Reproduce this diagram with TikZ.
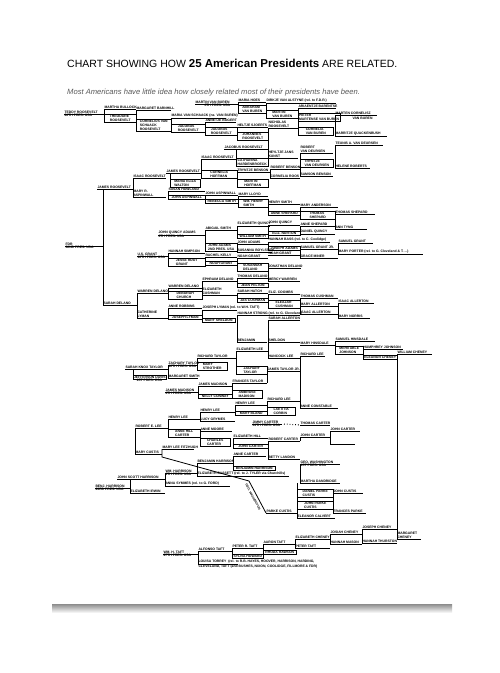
\documentclass[tikz,border=0pt]{standalone}
\usepackage{fontspec}
\setmainfont{Liberation Sans}
\usetikzlibrary{calc}
\newcommand\cfnt{\fontsize{3.4}{3.8}\selectfont\bfseries}
\tikzset{
 pn/.style={anchor=south west, inner xsep=0.3pt, inner ysep=0.6pt, font=\cfnt, align=left},
 bn/.style={pn, draw, line width=0.5pt, inner xsep=0.8pt, inner ysep=0.6pt},
 ln/.style={line width=0.8pt},
}
\newcommand\PN[5]{\node[pn] (#1) at (#2,#3) {#5}; \draw[ln] (#1.south west) -- ++(#4,0);}
\newcommand\BX[5]{\node[bn, minimum width=#4] (#1) at (#2,#3) {#5};}
\newcommand\PRS[2]{\node[pn, anchor=north west, inner ysep=0.4pt] (#1p) at (#1.south west) {#2};}
\newcommand\BR[2]{\draw[ln] (#1.south west) -- (#2.south west);}
\newcommand\BV[2]{\draw[ln] (#1.south west -| #2.south west) -- (#2.south west);}
\begin{document}
\begin{tikzpicture}[x=1pt,y=-1pt]
\useasboundingbox (0,0) rectangle (500,673);
\fill[white] (0,0) rectangle (500,673);
\shade[top color=black!45, bottom color=white] (52,604) rectangle (452,613);
% title
\node[anchor=base west, inner sep=0] (title) at (67,67) {\fontsize{10.5}{12}\selectfont CHART SHOWING HOW {\fontsize{11.5}{12}\selectfont\bfseries 25 American Presidents} ARE RELATED.};
\node[anchor=base west, inner sep=0, text=black!65] (sub) at (67,94) {\fontsize{7.6}{9}\selectfont\itshape Most Americans have little idea how closely related most of their presidents have been.};
% Roosevelt / Van Buren
\PN{tr}{64}{114}{40}{TEDDY ROOSEVELT} \PRS{tr}{26TH PRES. USA}
\PN{mbul}{104}{109}{32}{MARTHA BULLOCK}
\BX{throos}{104}{122}{32}{THEODORE\\ROOSEVELT}
\BR{mbul}{throos}
\PN{mbar}{136}{110}{35}{MARGARET BARNHILL}
\BX{cvs}{136}{131}{35}{CORNELIUS VAN\\SCHAACK\\ROOSEVELT}
\BR{mbar}{cvs}
\PN{mvs}{171}{118}{55}{MARIA VAN SCHAACK (ne. VAN BUREN)}
\BX{jr1}{171}{132}{34}{JACOBUS\\ROOSEVELT}
\BR{mvs}{jr1}
\PN{mvb}{195}{104}{43}{MARTIN VAN BUREN} \PRS{mvb}{\hspace*{9pt}8TH PRES. USA}
\PN{mhoes}{238}{102}{28}{MARIA HOES}
\BX{abvb}{238}{113}{28}{ABRAHAM\\VAN BUREN}
\BR{mhoes}{abvb}
\PN{dirk}{266}{103}{70}{DIRKJE VAN ALSTYNE (rel. to F.D.R.)}
\BX{mvbb}{266}{118}{32}{MARTIN\\VAN BUREN}
\BR{dirk}{mvbb}
\PN{aria}{298}{108}{38}{ARIAENTJE BARENTSE}
\BX{piet}{298}{121}{37}{PIETER\\MARTENSE VAN BUREN}
\BX{corn}{298}{135}{35}{CORNELIA\\VAN BUREN}
\BR{aria}{corn}
\PN{mart}{335}{115}{42}{MARTEN CORNELISZ}
\node[pn] (martb) at (352,120) {VAN BUREN};
\PN{marr}{335}{136}{52}{MARRITJE QUACKENBUSH}
\BR{mart}{marr}
\PN{ab}{205}{122}{31}{ANNETJE BOGERT}
\BX{jrb}{205}{135}{32}{JACOBUS\\ROOSEVELT}
\BR{ab}{jrb}
\PN{hs}{237}{127}{31}{HELTJE SJOERTS}
\BX{joh}{237}{140}{31}{JOHANNES\\ROOSEVELT}
\BR{hs}{joh}
\PN{nich}{268}{128}{30}{NICHOLAS\\ROOSEVELT}
\PN{hjk}{268}{158}{30}{HEYLTJE JANS\\KUNST}
\BR{nich}{hjk}
\PN{jrc}{224}{149}{44}{JACOBUS ROOSEVELT}
\PN{isra}{201}{159}{35}{ISAAC ROOSEVELT}
\BX{cath}{236}{166}{32}{CATHARINA\\HARDENBROECK}
\BV{jrc}{cath}
\PN{rvd}{300}{153}{33}{ROBERT\\VAN DEURSEN}
\BX{tvd}{300}{167}{33}{TRYNTJE\\VAN DEURSEN}
\PN{samb}{300}{176}{33}{SAMSON BENSON}
\BR{rvd}{samb}
\PN{teun}{335}{145}{48}{TEUNIS A. VAN DEURSEN}
\PN{hel}{335}{168}{35}{HELENE ROBERTS}
\BR{teun}{hel}
\PN{rben}{270}{169}{30}{ROBERT BENSON}
\PN{croos}{270}{178}{30}{CORNELIA ROOS}
\BR{rben}{croos}
\PN{tben}{237}{172}{33}{TRYNTJE BENSON}
\BX{mhoff}{237}{187}{31}{MARTIN\\HOFFMAN}
\BR{tben}{mhoff}
\BX{choff}{201}{178}{36}{CORNELIA\\HOFFMAN}
\BR{isra}{choff}
\PN{jrsa}{166}{173}{35}{JAMES ROOSEVELT}
\BX{mew}{170}{187}{30}{MARIA ELIZA\\WALTON}
\BV{jrsa}{mew}
\PN{isrb}{133}{178}{33}{ISAAC ROOSEVELT}
\PN{jrsb}{97}{189}{36}{JAMES ROOSEVELT}
\PN{mra}{133}{197}{33}{MARY R.\\ASPINWALL}
\BR{isrb}{mra}
\PN{shw}{168}{191}{37}{SUSAN HOWLAND}
\BX{jasp}{168}{199}{37}{JOHN ASPINWALL}
\BR{shw}{jasp}
\PN{jaspb}{205}{195}{33}{JOHN ASPINWALL}
\BX{rsm}{205}{203}{33}{REBECCA SMITH}
\BR{jaspb}{rsm}
\PN{mll}{238}{196}{30}{MARY LLOYD}
\BX{whs}{238}{207}{30}{WM. HENRY\\SMITH}
\BR{mll}{whs}
\PN{hsm}{268}{204}{32}{HENRY SMITH}
\BX{ash}{268}{215}{32}{ANNE SHEPARD}
\BR{hsm}{ash}
\PN{mand}{300}{207}{38}{MARY ANDERSON}
\BX{tsh}{300}{219}{35}{THOMAS\\SHEPARD}
\BR{mand}{tsh}
\PN{tshb}{335}{214}{40}{THOMAS SHEPARD}
\PN{atyng}{335}{229}{32}{ANN TYNG}
\BR{tshb}{atyng}
% Adams
\PN{jqa}{158}{235}{47}{JOHN QUINCY ADAMS} \PRS{jqa}{6TH PRES. USA}
\PN{asm}{205}{230}{32}{ABIGAIL SMITH}
\BX{jada}{205}{251}{32}{JOHN ADAMS\\2ND PRES. USA}
\BR{asm}{jada}
\PN{eq}{237}{226}{33}{ELIZABETH QUINCY}
\BX{wsm}{237}{238}{31}{WILLIAM SMITH}
\BR{eq}{wsm}
\PN{jq}{268}{225}{32}{JOHN QUINCY}
\BX{en}{268}{235}{32}{ELIZ. NORTON}
\BR{jq}{en}
\PN{ashep}{300}{226}{35}{ANNE SHEPARD}
\PN{dq}{300}{234}{35}{DANIEL QUINCY}
\BR{ashep}{dq}
\PN{jad}{237}{244}{31}{JOHN ADAMS}
\PN{sbo}{237}{252}{35}{SUSANNA BOYLSTON}
\BR{jad}{sbo}
\PN{hb}{268}{242}{62}{HANNAH BASS (rel. to C. Coolidge)}
\BX{joad}{268}{250}{32}{JOSEPH ADAMS}
\BR{hb}{joad}
% Grant
\PN{usg}{137}{256}{31}{U.S. GRANT} \PRS{usg}{18TH PRES. USA}
\PN{hsim}{168}{253}{37}{HANNAH SIMPSON}
\BX{jrg}{168}{266}{37}{JESSE ROOT\\GRANT}
\BR{hsim}{jrg}
\PN{rk}{205}{257}{32}{RACHEL KELLY}
\BX{ng}{205}{265}{32}{NOAH GRANT}
\BR{rk}{ng}
\PN{ngb}{237}{258}{31}{NOAH GRANT}
\BX{sdel}{237}{271}{31}{SUSANNAH\\DELANO}
\BR{ngb}{sdel}
\PN{ngc}{268}{255}{32}{NOAH GRANT}
\PN{sgj}{300}{249}{38}{SAMUEL GRANT JR.}
\PN{gm}{300}{258}{38}{GRACE MINER}
\BR{sgj}{gm}
\PN{sg}{338}{243}{35}{SAMUEL GRANT}
\PN{mp}{338}{254}{85}{MARY PORTER (rel. to G. Cleveland \& T. ...)}
\BR{sg}{mp}
% Delano
\PN{jdel}{268}{268}{33}{JONATHAN DELANO}
\PN{mw}{268}{281}{32}{MERCY WARREN}
\BR{jdel}{mw}
\PN{td}{237}{278}{31}{THOMAS DELANO}
\BX{jp}{237}{287}{31}{JEAN PELTON}
\BR{td}{jp}
\PN{ed}{202}{281}{35}{EPHRAIM DELANO}
\PN{ec}{202}{295}{35}{ELIZABETH\\CUSHMAN}
\BR{ed}{ec}
\PN{sh}{237}{293}{31}{SARAH HATCH}
\BX{jc}{237}{302}{31}{JAS CUSHMAN}
\BR{sh}{jc}
\PN{ecoom}{268}{294}{32}{ELIZ. COOMBS}
\BX{elc}{268}{308}{32}{ELEAZAR\\CUSHMAN}
\BR{ecoom}{elc}
\PN{tc}{300}{298}{38}{THOMAS CUSHMAN}
\PN{mal}{300}{306}{38}{MARY ALLERTON}
\PN{iab}{300}{314}{38}{ISAAC ALLERTON}
\BR{tc}{iab}
\PN{ia}{338}{303}{36}{ISAAC ALLERTON}
\PN{mn}{338}{318}{32}{MARY NORRIS}
\BR{ia}{mn}
\PN{wdb}{168}{288}{34}{WARREN DELANO}
\BX{dch}{168}{299}{34}{DEBORAH\\CHURCH}
\BR{wdb}{dch}
\PN{wda}{137}{293}{31}{WARREN DELANO}
\PN{cly}{137}{318}{31}{CATHERINE\\LYMAN}
\BR{wda}{cly}
\PN{sd}{103}{305}{34}{SARAH DELANO}
\BV{jrsb}{sd}
\PN{fdr}{65}{246}{38}{FDR} \PRS{fdr}{32ND PRES. USA}
\PN{arob}{168}{308}{34}{ANNE ROBBINS}
\BX{jly}{168}{319}{34}{JOSEPH LYMAN}
\BR{arob}{jly}
\PN{jlyb}{202}{310}{35}{JOSEPH LYMAN (rel. to W.H. TAFT)}
\BX{msh}{202}{322}{33}{MARY SHELDON}
\BR{jlyb}{msh}
\PN{hst}{237}{315.5}{63}{HANNAH STRONG (rel. to G. Cleveland)}
\PN{ben}{237}{342}{30}{BENJAMIN}
\BR{hst}{ben}
\PN{sal}{268}{320.5}{32}{SARAH ALLERTON}
\PN{shel}{268}{342}{32}{SHELDON}
\PN{hlee}{268}{358}{32}{HANCOCK LEE}
\BR{sal}{hlee}
\PN{mhin}{300}{345}{35}{MARY HINSDALE}
\PN{shin}{335}{341}{40}{SAMUEL HINSDALE}
\BX{mjo}{335}{354}{28}{MEHITABLE\\JOHNSON}
\BR{shin}{mjo}
\PN{hjo}{363}{349}{40}{HUMPHREY JOHNSON}
\BX{elch}{363}{359}{34}{ELEANOR CHENEY}
\BR{hjo}{elch}
\PN{wch}{397}{354}{35}{WILLIAM CHENEY}
\PN{mch}{397}{539}{24}{MARGARET\\CHENEY}
\BR{wch}{mch}
% Taylor / Madison / Lee
\PN{ztp}{168}{365}{29}{ZACHARY TAYLOR} \PRS{ztp}{12TH PRES. USA}
\PN{skt}{125}{369}{43}{SARAH KNOX TAYLOR}
\BX{jdav}{133}{379}{32}{JEFFERSON DAVIS}
\PRS{jdav}{\hspace*{3pt}1ST PRES. CSA}
\BV{skt}{jdav}
\PN{msm}{168}{378}{30}{MARGARET SMITH}
\BR{ztp}{msm}
\PN{rt}{197}{358}{39}{RICHARD TAYLOR}
\BX{mst}{197}{370}{30}{MARY\\STROTHER}
\BR{rt}{mst}
\PN{el}{236}{351}{32}{ELIZABETH LEE}
\BX{ztay}{236}{374}{31}{ZACHARY\\TAYLOR}
\BR{el}{ztay}
\PN{jtj}{267}{371}{33}{JAMES TAYLOR JR.}
\PN{ft}{232}{383}{35}{FRANCES TAYLOR}
\draw[ln] (jtj.south west) -- (jtj.south west |- ft.south east);
\PN{rleea}{300}{356}{25}{RICHARD LEE}
\PN{acon}{300}{408}{38}{ANNE CONSTABLE}
\BR{rleea}{acon}
\BX{amad}{232}{398}{30}{AMBROSE\\MADISON}
\BR{ft}{amad}
\PN{jmad}{198}{386}{34}{JAMES MADISON}
\BX{nc}{198}{398}{34}{NELLY CONWAY}
\BR{jmad}{nc}
\PN{jmp}{165}{392}{33}{JAMES MADISON} \PRS{jmp}{4TH PRES. USA}
\PN{rleeb}{267}{401}{33}{RICHARD LEE}
\BX{lc}{267}{415}{28}{LAETITIA\\CORBIN}
\BR{rleeb}{lc}
\PN{hlc}{235}{405}{32}{HENRY LEE}
\BX{mbl}{235}{415}{32}{MARY BLAND}
\BR{hlc}{mbl}
\PN{hlb}{200}{412}{35}{HENRY LEE}
\PN{lg}{200}{421}{35}{LUCY GRYMES}
\BR{hlb}{lg}
\PN{hla}{168}{419}{32}{HENRY LEE}
\BX{ahc}{168}{437}{32}{ANNE HILL\\CARTER}
\BR{hla}{ahc}
\PN{rel}{135}{428}{33}{ROBERT E. LEE}
\PN{mcus}{135}{454}{27}{MARY CUSTIS}
\BR{rel}{mcus}
\PN{am}{200}{431}{32}{ANNE MOORE}
\BX{cc}{200}{446}{30}{CHARLES\\CARTER}
\BR{am}{cc}
\PN{eh}{233}{438}{35}{ELIZABETH HILL}
\BX{jcar}{233}{448}{35}{JOHN CARTER}
\BR{eh}{jcar}
\PN{rcar}{268}{441}{32}{ROBERT CARTER}
\PN{bl}{268}{459}{32}{BETTY LANDON}
\BR{rcar}{bl}
\PN{jcp}{252}{424}{30}{JIMMY CARTER} \PRS{jcp}{39TH PRES. USA}
\PN{tcar}{300}{425}{30}{THOMAS CARTER}
\draw[ln, dotted, line width=1pt] (jcp.south west) ++(32,0) -- (tcar.south west);
\PN{jcarb}{300}{437}{30}{JOHN CARTER}
\PN{jcarc}{330}{431}{30}{JOHN CARTER}
\coordinate (jcb) at (330,444);
\draw[ln] (jcarc.south west) -- (jcb) -- ++(25,0);
\draw[ln] (jcarb.south west) -- (jcarb.south west |- rcar.south west);
\PN{mlf}{162}{449}{32}{MARY LEE FITZHUGH}
\PN{pcus}{266}{513}{31}{PARKE CUSTIS}
\coordinate (dga) at (162,457);
\coordinate (dgb) at (249,481);
\draw[ln] (mlf.south west) -- (dga) -- (dgb) -- (pcus.south west);
\node[pn, rotate=-62, anchor=center, font=\fontsize{3}{3.4}\selectfont\bfseries] (gwpc) at (253,497) {GEO. WASHINGTON};
\PN{ac}{233}{456}{33}{ANNE CARTER}
\BX{bhb}{233}{470}{42}{BENJAMIN HARRISON}
\BR{ac}{bhb}
\PN{bha}{197}{463}{36}{BENJAMIN HARRISON}
\PN{eb}{197}{476}{92}{ELIZABETH BASSETT (rel. to J. TYLER via Churchills)}
\BR{bha}{eb}
\PN{whp}{165}{473}{32}{WM. HARRISON} \PRS{whp}{9TH PRES. USA}
\PN{jsh}{117}{479}{48}{JOHN SCOTT HARRISON}
\PN{asy}{165}{486}{65}{ANNA SYMMES (rel. to G. FORD)}
\BR{whp}{asy}
\PN{bhp}{95}{488}{35}{BENJ. HARRISON} \PRS{bhp}{23RD PRES. USA}
\PN{ei}{130}{493}{35}{ELIZABETH IRWIN}
\BV{jsh}{ei}
\PN{gwp}{300}{464}{40}{GEO. WASHINGTON} \PRS{gwp}{1ST PRES. USA}
\PN{md}{300}{483}{40}{MARTHA DANDRIDGE}
\BR{gwp}{md}
\BX{dpc}{297}{497}{36}{DANIEL PARKE\\CUSTIS}
\BX{jpc}{297}{509}{36}{JOHN PARKE\\CUSTIS}
\PN{ecal}{297}{518}{38}{ELEANOR CALVERT}
\draw[ln] (dpc.south west |- md.south west) -- (ecal.south west);
\PN{jcus}{333}{493}{30}{JOHN CUSTIS}
\PN{fp}{333}{513}{33}{FRANCES PARKE}
\BR{jcus}{fp}
% Taft
\PN{tfp}{163}{554}{35}{WM. H. TAFT} \PRS{tfp}{27TH PRES. USA}
\PN{alt}{198}{551}{34}{ALFONSO TAFT}
\PN{lt}{198}{564}{40}{LOUISA TORREY \ (rel. to R.B. HAYES, HOOVER, HARRISON, HARDING,}
\node[pn, anchor=north west] (ltb) at (lt.south west) {CLEVELAND, TAFT (and BUSHES, NIXON, COOLIDGE, FILLMORE \& FDR)};
\BR{alt}{lt}
\PN{prt}{232}{548}{31}{PETER R. TAFT}
\BX{syh}{232}{558}{31}{SYLVIA HOWARD}
\BR{prt}{syh}
\PN{aat}{263}{544}{32}{AARON TAFT}
\BX{rr}{263}{554}{33}{RHODA RAWSON}
\BR{aat}{rr}
\PN{ech}{295}{539}{35}{ELIZABETH CHENEY}
\PN{pt}{295}{548}{35}{PETER TAFT}
\BR{ech}{pt}
\PN{jch}{330}{534}{32}{JOSIAH CHENEY}
\PN{hm}{330}{544}{32}{HANNAH MASON}
\BR{jch}{hm}
\PN{jchb}{362}{529}{35}{JOSEPH CHENEY}
\PN{ht}{362}{543}{35}{HANNAH THURSTON}
\BR{jchb}{ht}
\end{tikzpicture}
\end{document}
